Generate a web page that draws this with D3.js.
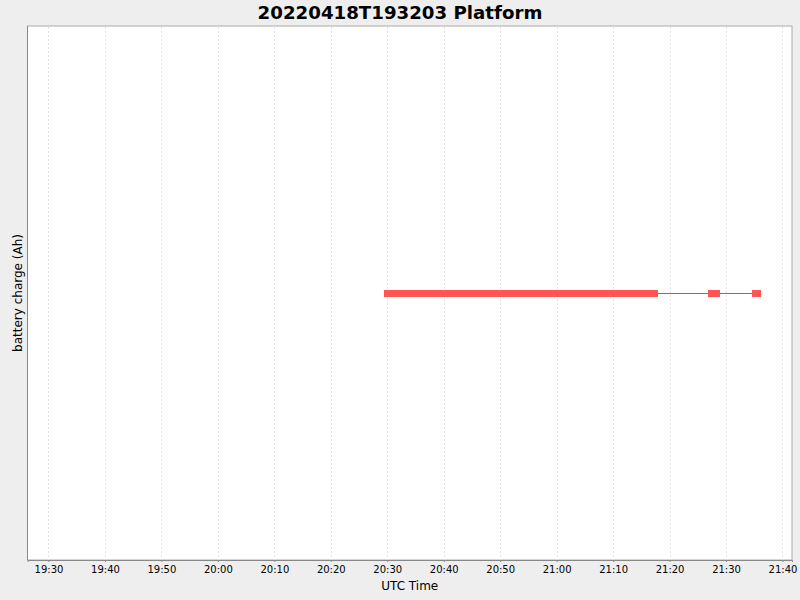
<!DOCTYPE html>
<html><head><meta charset="utf-8">
<script src="https://cdn.jsdelivr.net/npm/d3@7"></script>
<style>body{margin:0;background:#eeeeee;} svg{display:block;}</style>
</head><body>
<script>
const title = "20220418T193203 Platform";
const xLabel = "UTC Time";
const yLabel = "battery charge (Ah)";
const tickLabels = ["19:30","19:40","19:50","20:00","20:10","20:20","20:30","20:40","20:50","21:00","21:10","21:20","21:30","21:40"];
// sample times (UTC, 2022-04-18) and battery charge values
const times = [
 "20:29:57","20:31:00","20:32:00","20:33:00","20:34:00","20:35:00","20:36:00","20:37:00","20:38:00","20:39:00",
 "20:40:00","20:41:00","20:42:00","20:43:00","20:44:00","20:45:00","20:46:00","20:47:00","20:48:00","20:49:00",
 "20:50:00","20:51:00","20:52:00","20:53:00","20:54:00","20:55:00","20:56:00","20:57:00","20:58:00","20:59:00",
 "21:00:00","21:01:00","21:02:00","21:03:00","21:04:00","21:05:00","21:06:00","21:07:00","21:08:00","21:09:00",
 "21:10:00","21:11:00","21:12:00","21:13:00","21:14:00","21:15:00","21:16:00","21:17:00","21:17:25",
 "21:27:20","21:28:24","21:35:08","21:35:40"];
const charge = times.map(() => 0);

const W = 800, H = 600;
const plot = {l: 27.5, r: 792, t: 26, b: 560};
const parse = d3.utcParse("%Y-%m-%d %H:%M:%S");
const day = "2022-04-18 ";
const x = d3.scaleUtc()
  .domain([parse(day + "19:26:17"), parse(day + "21:41:41")])
  .range([plot.l, plot.r]);
const y = d3.scaleLinear().domain([-1, 1]).range([plot.b, plot.t]);

const svg = d3.select("body").append("svg").attr("width", W).attr("height", H);
svg.append("rect").attr("width", W).attr("height", H).attr("fill", "#eeeeee");
svg.append("rect").attr("x", plot.l).attr("y", plot.t)
  .attr("width", plot.r - plot.l).attr("height", plot.b - plot.t)
  .attr("fill", "#ffffff").attr("stroke", "#aaaaaa").attr("stroke-width", 1);

const tickDates = tickLabels.map(s => parse(day + s + ":00"));

// gridlines
svg.append("g").selectAll("line").data(tickDates).join("line")
  .attr("x1", d => Math.round(x(d)) + 0.5).attr("x2", d => Math.round(x(d)) + 0.5)
  .attr("y1", plot.t + 1).attr("y2", plot.b)
  .attr("stroke", "#e2e2e2").attr("stroke-width", 1).attr("stroke-dasharray", "2,2");

// x axis
const xAxis = d3.axisBottom(x).tickValues(tickDates)
  .tickFormat((d, i) => tickLabels[i]).tickSize(2).tickPadding(4);
const gx = svg.append("g").attr("transform", `translate(0,${plot.b})`).call(xAxis);
gx.select(".domain").attr("stroke", "#888888");
gx.selectAll(".tick line").attr("stroke", "#888888");
gx.selectAll(".tick text").attr("font-family", "DejaVu Sans").attr("font-size", 10).attr("fill", "#000");

// left axis line
svg.append("line").attr("x1", plot.l).attr("x2", plot.l).attr("y1", plot.t).attr("y2", plot.b)
  .attr("stroke", "#888888");

// data
const data = times.map((t, i) => ({t: parse(day + t), v: charge[i]}));
const line = d3.line().x(d => x(d.t)).y(d => Math.round(y(d.v)) + 0.5);
svg.append("path").datum(data).attr("d", line)
  .attr("fill", "none").attr("stroke", "#d05050").attr("stroke-width", 1);
svg.append("g").selectAll("rect").data(data).join("rect")
  .attr("x", d => Math.round(x(d.t) - 3)).attr("y", d => Math.round(y(d.v) - 3))
  .attr("width", 6).attr("height", 7).attr("fill", "#ff5555");

// labels
svg.append("text").attr("x", 400).attr("y", 19).attr("text-anchor", "middle")
  .attr("font-family", "DejaVu Sans").attr("font-weight", "bold").attr("font-size", 18.2)
  .text(title);
svg.append("text").attr("x", (plot.l + plot.r) / 2).attr("y", 590).attr("text-anchor", "middle")
  .attr("font-family", "DejaVu Sans").attr("font-size", 12).text(xLabel);
svg.append("text").attr("transform", `translate(22,${(plot.t + plot.b) / 2}) rotate(-90)`)
  .attr("text-anchor", "middle").attr("font-family", "DejaVu Sans").attr("font-size", 12)
  .text(yLabel);
</script>
</body></html>
